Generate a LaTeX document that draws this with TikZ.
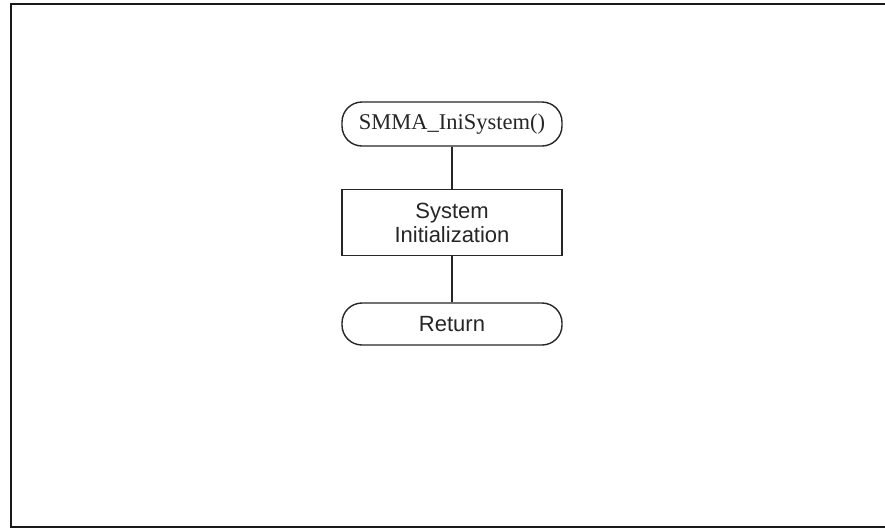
\documentclass[tikz,border=0pt]{standalone}
\usepackage{fontspec}
\setmainfont{Liberation Sans}
\newfontfamily\timesfont{Liberation Serif}
\begin{document}
\begin{tikzpicture}[x=1pt,y=-1pt,
  flowline/.style={line width=1.4pt,black!85},
  terminal/.style={flowline,draw,rounded corners=20pt,minimum width=220pt,inner sep=0pt,font=\fontsize{22}{24}\selectfont},
  process/.style={flowline,draw,minimum width=220pt,minimum height=66pt,inner sep=0pt,align=center,font=\fontsize{22}{24}\selectfont}]
  \useasboundingbox (0,0) rectangle (885,531);
  % page frame (open on the right)
  \draw[line width=2pt,black!90] (885,4) -- (11,4) -- (11,527) -- (885,527);
  % flowchart
  \node[terminal,minimum height=44pt,font=\timesfont\fontsize{22.5}{24}\selectfont] (start) at (452,124) {SMMA\_IniSystem()};
  \node[process] (init) at (452,222.5) {System\\Initialization};
  \node[terminal,minimum height=42pt] (ret) at (452,324) {Return};
  \draw[flowline] (start) -- (init);
  \draw[flowline] (init) -- (ret);
\end{tikzpicture}
\end{document}
